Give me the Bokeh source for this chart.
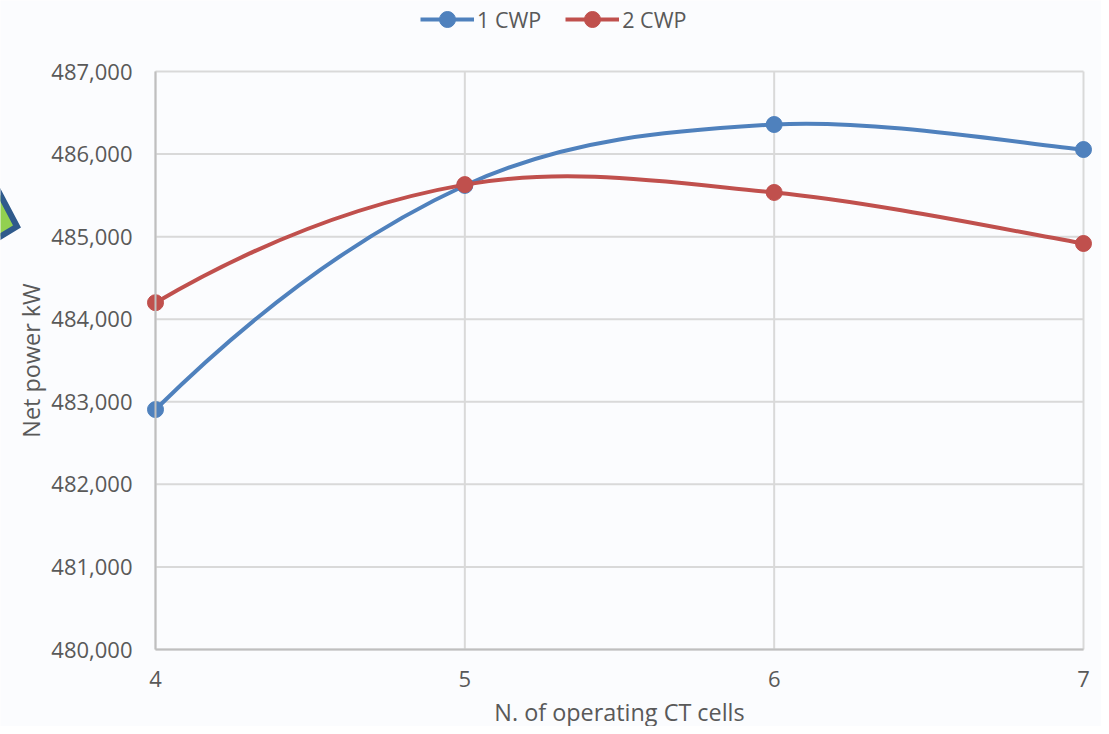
from bokeh.plotting import figure
from bokeh.models import ColumnDataSource, Legend, LegendItem, PolyAnnotation, NumeralTickFormatter, FixedTicker
from bokeh.embed import file_html
from bokeh.resources import INLINE

cells = [4, 5, 6, 7]
cwp_1 = [482906, 485620, 486358, 486055]
cwp_2 = [484200, 485630, 485535, 484917]
y_ticks = [480000, 481000, 482000, 483000, 484000, 485000, 486000, 487000]
names = ["1 CWP", "2 CWP"]
colors = ["#4F81BD", "#C0504D"]
FONT = "Open Sans"
TXT = "#595959"
BG = "#FBFCFE"
W, H = 1101, 726
LEFT, RIGHT, TOP, BOTTOM = 155, 1083, 71, 649   # where the value box lies on the canvas


def segments(xs, ys):
    """Cubic segments through the points, as a spreadsheet's smoothed line: tangents are
    Catmull-Rom, and the first segment is a quadratic that meets the inner tangent."""
    n = len(xs)
    d = dict(x0=[], y0=[], x1=[], y1=[], cx0=[], cy0=[], cx1=[], cy1=[])
    for i in range(n - 1):
        d["x0"].append(xs[i]); d["y0"].append(ys[i])
        d["x1"].append(xs[i + 1]); d["y1"].append(ys[i + 1])
        cxy = []
        for v in (xs, ys):
            if i == 0:
                q = v[1] - (v[2] - v[0]) / 4
                c0, c1 = v[0] + 2 / 3 * (q - v[0]), v[1] + 2 / 3 * (q - v[1])
            else:
                b = min(i + 2, n - 1)
                c0 = v[i] + (v[i + 1] - v[i - 1]) / 6
                c1 = v[i + 1] - (v[b] - v[i]) / 6
            cxy.append((c0, c1))
        d["cx0"].append(cxy[0][0]); d["cx1"].append(cxy[0][1])
        d["cy0"].append(cxy[1][0]); d["cy1"].append(cxy[1][1])
    return ColumnDataSource(d)


xmin, xmax, ymin, ymax = cells[0], cells[-1], y_ticks[0], y_ticks[-1]
sx = (xmax - xmin) / (RIGHT - LEFT)
sy = (ymax - ymin) / (BOTTOM - TOP)
p = figure(width=W, height=H,
           x_range=(xmin - LEFT * sx, xmax + (W - RIGHT) * sx),
           y_range=(ymin - (H - BOTTOM) * sy, ymax + TOP * sy),
           x_axis_location="below", y_axis_location="left",
           output_backend="svg", toolbar_location=None,
           background_fill_color=BG, border_fill_color=BG, min_border=0)
p.outline_line_color = None
p.grid.visible = False

p.xaxis.ticker = FixedTicker(ticks=cells)
p.yaxis.ticker = FixedTicker(ticks=y_ticks)
p.yaxis.formatter = NumeralTickFormatter(format="0,0")
p.xaxis.fixed_location = ymin
p.yaxis.fixed_location = xmin
p.xaxis.bounds = (xmin, xmax)
p.yaxis.bounds = (ymin, ymax)
for ax in (p.xaxis[0], p.yaxis[0]):
    ax.axis_line_color = "#BFBFBF"
    ax.axis_line_width = 2
    ax.major_tick_line_color = None
    ax.minor_tick_line_color = None
    ax.major_tick_in = 0
    ax.major_tick_out = 0
    ax.major_label_text_font = FONT
    ax.major_label_text_font_size = "22px"
    ax.major_label_text_color = TXT
    ax.axis_label_text_font = FONT
    ax.axis_label_text_font_size = "23.4px"
    ax.axis_label_text_font_style = "normal"
    ax.axis_label_text_color = TXT
p.xaxis.axis_label = "N. of operating CT cells"
p.yaxis.axis_label = "Net power kW"
p.xaxis.major_label_standoff = 21
p.yaxis.major_label_standoff = 23
p.xaxis.axis_label_standoff = 6
p.yaxis.axis_label_standoff = 1

p.segment(x0=cells, y0=[ymin] * len(cells), x1=cells, y1=[ymax] * len(cells),
          line_color="#D9D9D9", line_width=2, level="underlay")
p.segment(x0=[xmin] * len(y_ticks), y0=y_ticks, x1=[xmax] * len(y_ticks), y1=y_ticks,
          line_color="#D9D9D9", line_width=2, level="underlay")

items = []
nan = float("nan")
for name, vals, col in zip(names, [cwp_1, cwp_2], colors):
    p.bezier("x0", "y0", "x1", "y1", "cx0", "cy0", "cx1", "cy1", source=segments(cells, vals),
             line_color=col, line_width=4)
    key = p.line(cells, [nan] * len(cells), line_color=col, line_width=4)
    pts = p.scatter(cells, vals, size=16, marker="circle", fill_color=col, line_color=col)
    items.append(LegendItem(label=name, renderers=[key, pts]))

legend = Legend(items=items, orientation="horizontal", location=(420, H - 39),
                background_fill_alpha=0, border_line_color=None,
                glyph_width=54, glyph_height=40, label_standoff=3, spacing=24,
                margin=0, padding=0,
                label_text_font=FONT, label_text_font_size="21.5px", label_text_color=TXT)
p.add_layout(legend, "center")

p.add_layout(PolyAnnotation(xs=[-15, 16.5, -15], ys=[H - 166.3, H - 226, H - 244.8],
                            xs_units="screen", ys_units="screen",
                            fill_color="#92D050", fill_alpha=1,
                            line_color="#2F5A8C", line_width=6, line_alpha=1, line_join="miter"))

open("out.html", "w").write(file_html(p, INLINE))
